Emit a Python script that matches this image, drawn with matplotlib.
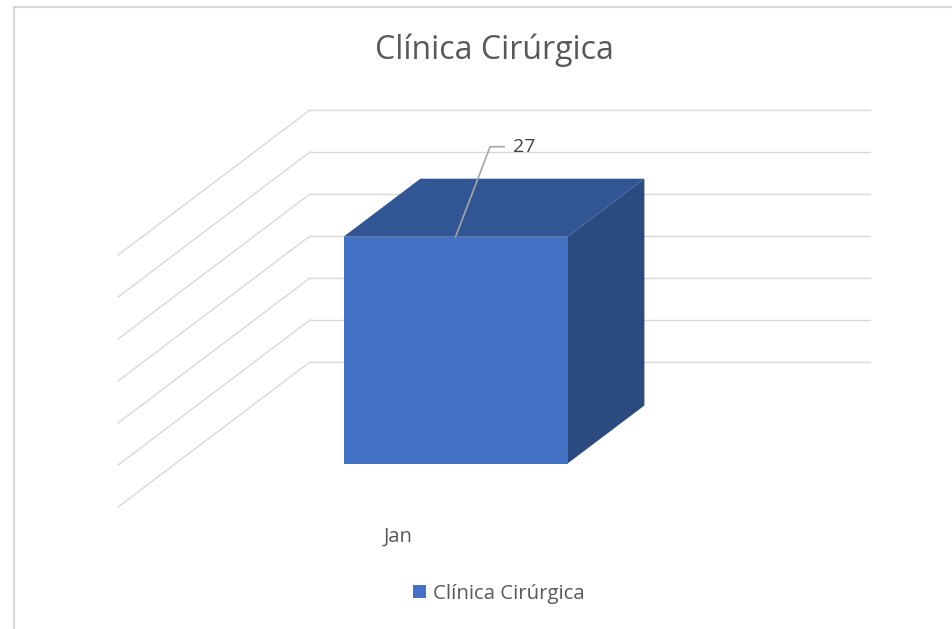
import matplotlib
matplotlib.use("Agg")
import matplotlib.pyplot as plt
import matplotlib.patches as mpatches
from matplotlib.lines import Line2D

# data
title = "Clínica Cirúrgica"
categories = ["Jan"]
series_name = "Clínica Cirúrgica"
values = [27]
grid_values = [0, 5, 10, 15, 20, 25, 30]

# colours
FRONT = "#4472C4"
TOP = "#325694"
SIDE = "#2B4A80"
GRID = "#D9D9D9"
TEXT = "#595959"

plt.rcParams['font.family'] = ['Open Sans', 'DejaVu Sans']

fig = plt.figure(figsize=(9.53, 6.29), dpi=100)
# axes covers the back wall of the 3d plot
ax = fig.add_axes([310 / 953, 1 - 362 / 629, 560 / 953, 252 / 629])
ax.set_xlim(0, 1)
ax.set_ylim(0, 30)
ax.axis('off')

# oblique projection: one unit of depth moves this much in data units
DEPTH_X = -192 / 560
DEPTH_Y = -145 / (252 / 30)


def proj(x, depth, v):
    return (x + depth * DEPTH_X, v + depth * DEPTH_Y)


# gridlines on back wall and side wall
for v in grid_values:
    ax.add_line(Line2D([0, 1], [v, v], color=GRID, lw=1.0, clip_on=False, zorder=1))
    p0 = proj(0, 0, v)
    p1 = proj(0, 1, v)
    ax.add_line(Line2D([p0[0], p1[0]], [p0[1], p1[1]], color=GRID, lw=1.0,
                       clip_on=False, zorder=1))

# bars
n = len(categories)
width = 0.4 / n
d0, d1 = 0.3, 0.7
for i, (cat, val) in enumerate(zip(categories, values)):
    xc = (i + 0.5) / n
    x0, x1 = xc - width / 2, xc + width / 2
    top = [proj(x0, d1, val), proj(x1, d1, val), proj(x1, d0, val), proj(x0, d0, val)]
    side = [proj(x1, d1, 0), proj(x1, d0, 0), proj(x1, d0, val), proj(x1, d1, val)]
    front = [proj(x0, d1, 0), proj(x1, d1, 0), proj(x1, d1, val), proj(x0, d1, val)]
    for pts, col in [(top, TOP), (side, SIDE), (front, FRONT)]:
        ax.add_patch(mpatches.Polygon(pts, closed=True, facecolor=col,
                                      edgecolor='none', clip_on=False, zorder=3))

    # data label with leader line
    anchor = proj(xc, d1, val)
    ax.annotate(str(val), xy=anchor, xytext=(57, 90), textcoords='offset pixels',
                ha='left', va='center', fontsize=14, color="#404040",
                annotation_clip=False, zorder=5,
                arrowprops=dict(arrowstyle='-', color="#A6A6A6", lw=1.2,
                                connectionstyle='angle,angleA=0,angleB=69,rad=0',
                                relpos=(0, 0.5), shrinkA=4, shrinkB=0))

    # category label
    lab = proj(xc, 1, 0)
    ax.annotate(cat, xy=lab, xytext=(0, -30), textcoords='offset pixels',
                ha='center', va='center', fontsize=14.5, color=TEXT,
                annotation_clip=False)

fig.text(494 / 953, 1 - 50 / 629, title, ha='center', va='center',
         fontsize=23, color=TEXT)

handle = mpatches.Patch(facecolor=FRONT, edgecolor='none', label=series_name)
fig.legend(handles=[handle], loc='center', bbox_to_anchor=(499 / 953, 1 - 594 / 629),
           frameon=False, fontsize=14.7, handlelength=0.6, handleheight=0.6,
           handletextpad=0.35, labelcolor=TEXT)

# chart border (top and left visible)
fig.add_artist(Line2D([14.5 / 953, 1], [1 - 6.5 / 629, 1 - 6.5 / 629],
                      color=GRID, lw=1.5, transform=fig.transFigure))
fig.add_artist(Line2D([14.5 / 953, 14.5 / 953], [0, 1 - 6.5 / 629],
                      color=GRID, lw=1.5, transform=fig.transFigure))

fig.savefig("out.png", dpi=100)
